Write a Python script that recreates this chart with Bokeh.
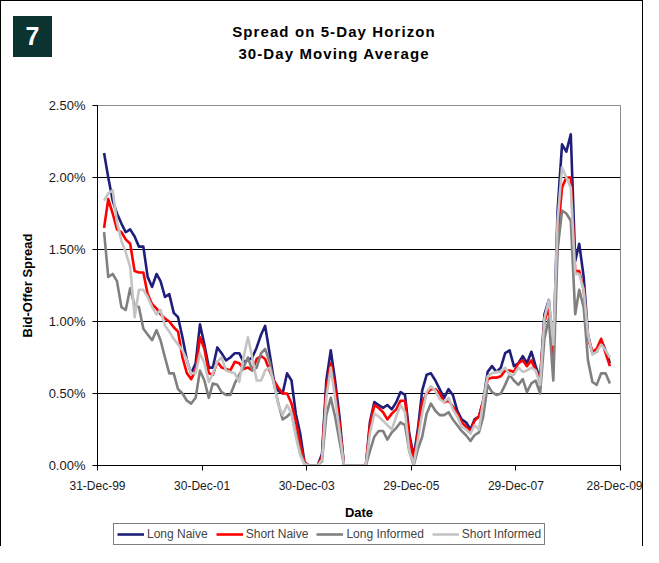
import pandas as pd
from bokeh.plotting import figure
from bokeh.layouts import column
from bokeh.models import (FixedTicker, DatetimeTickFormatter, PrintfTickFormatter,
                          Legend, LegendItem, Range1d, Div)
from bokeh.embed import file_html
from bokeh.resources import INLINE

# ---------------- data (30-day moving average of bid-offer spread, %) ----------------
dates = pd.date_range("2000-02-01", periods=117, freq="MS") + pd.Timedelta(days=14)

long_naive = [
    2.17, 2.00, 1.84, 1.75, 1.68, 1.62, 1.64, 1.59, 1.52, 1.52,
    1.31, 1.24, 1.33, 1.28, 1.17, 1.19, 1.06, 1.03, 0.89, 0.73,
    0.64, 0.71, 0.98, 0.84, 0.68, 0.68, 0.82, 0.78, 0.73, 0.75,
    0.78, 0.78, 0.72, 0.73, 0.75, 0.82, 0.91, 0.97, 0.78, 0.59,
    0.52, 0.50, 0.64, 0.59, 0.36, 0.22, 0.02, 0.00, 0.00, 0.00,
    0.08, 0.59, 0.80, 0.59, 0.34, 0.00, 0.00, 0.00, 0.00, 0.00,
    0.00, 0.30, 0.44, 0.42, 0.40, 0.42, 0.39, 0.44, 0.51, 0.49,
    0.22, 0.06, 0.27, 0.52, 0.63, 0.64, 0.59, 0.53, 0.47, 0.53,
    0.49, 0.38, 0.32, 0.30, 0.25, 0.32, 0.34, 0.45, 0.65, 0.69,
    0.65, 0.68, 0.78, 0.80, 0.69, 0.71, 0.76, 0.71, 0.79, 0.69,
    0.60, 1.05, 1.15, 0.78, 1.77, 2.23, 2.18, 2.30, 1.42, 1.54,
    1.31, 0.91, 0.78, 0.79, 0.87, 0.80, 0.71,
]
short_naive = [
    1.65, 1.85, 1.75, 1.64, 1.62, 1.57, 1.54, 1.35, 1.34, 1.34,
    1.19, 1.12, 1.09, 1.05, 1.02, 1.00, 0.96, 0.93, 0.75, 0.64,
    0.60, 0.66, 0.89, 0.81, 0.64, 0.63, 0.72, 0.68, 0.67, 0.66,
    0.72, 0.71, 0.67, 0.68, 0.66, 0.74, 0.76, 0.74, 0.66, 0.59,
    0.54, 0.50, 0.50, 0.43, 0.31, 0.15, 0.02, 0.00, 0.00, 0.00,
    0.06, 0.54, 0.71, 0.54, 0.29, 0.00, 0.00, 0.00, 0.00, 0.00,
    0.00, 0.28, 0.42, 0.40, 0.37, 0.32, 0.36, 0.39, 0.45, 0.45,
    0.20, 0.03, 0.24, 0.44, 0.50, 0.53, 0.53, 0.50, 0.44, 0.45,
    0.41, 0.36, 0.30, 0.27, 0.23, 0.31, 0.34, 0.45, 0.60, 0.61,
    0.61, 0.62, 0.66, 0.66, 0.65, 0.71, 0.73, 0.69, 0.73, 0.66,
    0.60, 1.00, 1.10, 0.76, 1.59, 1.93, 2.00, 2.00, 1.35, 1.35,
    1.22, 0.88, 0.79, 0.81, 0.88, 0.78, 0.69,
]
long_informed = [
    1.62, 1.31, 1.33, 1.28, 1.10, 1.08, 1.23, 1.11, 1.10, 0.95,
    0.91, 0.87, 0.94, 0.87, 0.75, 0.64, 0.64, 0.53, 0.50, 0.45,
    0.43, 0.47, 0.66, 0.59, 0.47, 0.57, 0.56, 0.51, 0.49, 0.49,
    0.57, 0.63, 0.68, 0.75, 0.66, 0.68, 0.78, 0.81, 0.72, 0.57,
    0.43, 0.32, 0.34, 0.37, 0.22, 0.09, 0.01, 0.00, 0.00, 0.00,
    0.03, 0.35, 0.47, 0.34, 0.17, 0.00, 0.00, 0.00, 0.00, 0.00,
    0.00, 0.10, 0.20, 0.24, 0.24, 0.18, 0.23, 0.26, 0.30, 0.28,
    0.10, 0.00, 0.12, 0.20, 0.36, 0.43, 0.38, 0.35, 0.35, 0.37,
    0.32, 0.28, 0.24, 0.21, 0.17, 0.21, 0.23, 0.34, 0.56, 0.51,
    0.49, 0.50, 0.56, 0.63, 0.59, 0.56, 0.60, 0.51, 0.57, 0.59,
    0.50, 0.88, 1.02, 0.59, 1.50, 1.77, 1.75, 1.70, 1.05, 1.22,
    1.10, 0.73, 0.58, 0.56, 0.64, 0.64, 0.57,
]
short_informed = [
    1.84, 1.89, 1.91, 1.69, 1.56, 1.48, 1.38, 1.03, 1.22, 1.22,
    1.17, 1.10, 1.05, 1.08, 0.97, 0.93, 0.88, 0.84, 0.80, 0.73,
    0.64, 0.64, 0.78, 0.71, 0.58, 0.64, 0.72, 0.75, 0.66, 0.65,
    0.64, 0.58, 0.75, 0.89, 0.75, 0.59, 0.59, 0.66, 0.68, 0.57,
    0.42, 0.35, 0.42, 0.36, 0.20, 0.07, 0.01, 0.00, 0.00, 0.00,
    0.04, 0.47, 0.68, 0.47, 0.24, 0.00, 0.00, 0.00, 0.00, 0.00,
    0.00, 0.22, 0.36, 0.34, 0.31, 0.28, 0.25, 0.34, 0.42, 0.37,
    0.10, 0.01, 0.19, 0.36, 0.51, 0.55, 0.52, 0.46, 0.44, 0.47,
    0.39, 0.34, 0.27, 0.25, 0.22, 0.28, 0.25, 0.45, 0.62, 0.64,
    0.65, 0.65, 0.68, 0.63, 0.63, 0.68, 0.65, 0.66, 0.68, 0.66,
    0.56, 1.02, 1.15, 0.84, 1.70, 2.07, 2.00, 1.93, 1.33, 1.33,
    1.22, 0.91, 0.77, 0.79, 0.84, 0.80, 0.75,
]

series_names = ["Long Naive", "Short Naive", "Long Informed", "Short Informed"]
series_colors = ["#1f1f7a", "#ff0000", "#808080", "#c4c4c4"]
series_values = [long_naive, short_naive, long_informed, short_informed]

x_tick_dates = ["1999-12-31", "2001-12-30", "2003-12-30", "2005-12-29", "2007-12-29", "2009-12-28"]
y_ticks = [0.0, 0.5, 1.0, 1.5, 2.0, 2.5]
grid_ticks = [0.5, 1.0, 1.5, 2.0]

badge_text = "7"
title_lines = ["Spread on 5-Day Horizon", "30-Day Moving Average"]

FONT = "Liberation Sans"
W = 641            # inner width (1px border left and right)
HEAD = 70          # header height
MAIN_H = 451       # main chart height
LEG_H = 24         # legend strip height


def ms(d):
    return pd.Timestamp(d).value // 10**6


# ---------------- header (badge + title) ----------------
header_html = (
    f'<div style="position:relative;width:{W}px;height:{HEAD}px;">'
    f'<div style="position:absolute;left:12px;top:15px;width:39px;height:41px;'
    f'background:#0b3431;color:#ffffff;font-family:\'{FONT}\';font-weight:bold;'
    f'font-size:25px;line-height:41px;text-align:center;">{badge_text}</div>'
    f'<div style="position:absolute;left:25px;top:20px;width:616px;text-align:center;'
    f'font-family:\'{FONT}\';font-weight:bold;font-size:15px;line-height:22px;'
    f'letter-spacing:1.1px;color:#000000;">{title_lines[0]}<br>{title_lines[1]}</div>'
    f'</div>'
)
header = Div(text=header_html, width=W, height=HEAD, margin=0)

# ---------------- main chart ----------------
frame_top = 105 - 1 - HEAD            # local y of plot-area top
frame_bottom = 465 - 1 - HEAD         # local y of plot-area bottom
p = figure(width=W, height=MAIN_H, x_axis_type="datetime",
           x_range=Range1d(ms(x_tick_dates[0]), ms(x_tick_dates[-1])),
           y_range=Range1d(0, 2.5),
           output_backend="svg", toolbar_location=None,
           min_border_left=96, min_border_right=W - 619,
           min_border_top=frame_top, min_border_bottom=MAIN_H - frame_bottom,
           margin=0)
p.background_fill_color = "white"
p.border_fill_color = "white"
p.outline_line_color = "#8c8c8c"
p.outline_line_width = 1

renderers = []
for vals, col in zip(series_values, series_colors):
    renderers.append(p.line(dates, vals, line_color=col, line_width=2.6, line_join="round"))

xa = p.xaxis[0]
xa.ticker = FixedTicker(ticks=[ms(d) for d in x_tick_dates])
fmt = "%d-%b-%y"
xa.formatter = DatetimeTickFormatter(days=fmt, months=fmt, years=fmt, hours=fmt,
                                     minutes=fmt, seconds=fmt, milliseconds=fmt,
                                     microseconds=fmt, minsec=fmt, hourmin=fmt)
ya = p.yaxis[0]
ya.ticker = FixedTicker(ticks=y_ticks)
ya.formatter = PrintfTickFormatter(format="%.2f%%")

for ax in (xa, ya):
    ax.axis_line_color = "black"
    ax.axis_line_width = 1
    ax.major_tick_line_color = "black"
    ax.major_tick_out = 5
    ax.major_tick_in = 0
    ax.minor_tick_line_color = None
    ax.major_label_text_font = FONT
    ax.major_label_text_color = "#1a1a1a"
    ax.axis_label_text_font = FONT
    ax.axis_label_text_font_size = "13px"
    ax.axis_label_text_font_style = "bold"
    ax.axis_label_text_color = "black"

xa.major_label_text_font_size = "12px"
ya.major_label_text_font_size = "13px"
xa.axis_label = "Date"
xa.major_label_standoff = 8
xa.axis_label_standoff = 9
ya.axis_label = "Bid-Offer Spread"
ya.major_label_standoff = 7
ya.axis_label_standoff = 11

p.xgrid.grid_line_color = None
p.ygrid.ticker = FixedTicker(ticks=grid_ticks)
p.ygrid.grid_line_color = "black"
p.ygrid.grid_line_width = 1

# ---------------- legend strip (same series, legend inside its own frame) ----------------
lg = figure(width=W, height=LEG_H, x_axis_type="datetime",
            x_range=Range1d(0, 1), y_range=Range1d(0, 1),
            output_backend="svg", toolbar_location=None,
            x_axis_location=None, y_axis_location=None,
            min_border=0, margin=0)
lg.grid.visible = False
lg.outline_line_color = None
lg.background_fill_color = "white"
lg.border_fill_color = "white"
leg_renderers = [lg.line(dates, vals, line_color=col, line_width=2.6)
                 for vals, col in zip(series_values, series_colors)]
legend = Legend(items=[LegendItem(label=n, renderers=[r]) for n, r in zip(series_names, leg_renderers)],
                location=(16, 1), orientation="horizontal",
                label_text_font=FONT, label_text_font_size="12px",
                glyph_width=27, glyph_height=14, label_height=14, label_standoff=3,
                spacing=8, padding=3, margin=0,
                border_line_color="black", border_line_width=1,
                background_fill_color="white", background_fill_alpha=1)
lg.add_layout(legend)

layout = column(header, p, lg, spacing=0,
                styles={"border-left": "1px solid #000", "border-top": "1px solid #000",
                        "border-right": "1px solid #000"})

open("out.html", "w").write(file_html(layout, INLINE))
